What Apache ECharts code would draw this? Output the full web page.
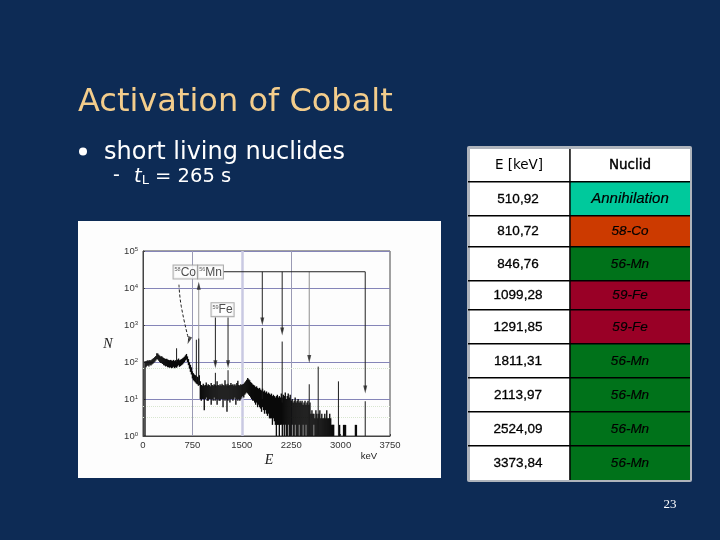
<!DOCTYPE html>
<html><head><meta charset="utf-8">
<style>html,body{margin:0;padding:0;background:#0d2b55}#c{width:720px;height:540px}</style>
<script src="https://cdn.jsdelivr.net/npm/echarts@6/dist/echarts.min.js"></script>
</head><body><div id="c"></div>
<script>
const titleText = 'Activation of Cobalt';
const bulletText = 'short living nuclides';
const pageNumber = '23';
const tableHeader = ['E [keV]', 'Nuclid'];
const tableEnergies = ['510,92','810,72','846,76','1099,28','1291,85','1811,31','2113,97','2524,09','3373,84'];
const tableNuclides = ['Annihilation','58-Co','56-Mn','59-Fe','59-Fe','56-Mn','56-Mn','56-Mn','56-Mn'];
const nuclideColors = {'Annihilation':'#00c99c','58-Co':'#cc3a00','56-Mn':'#00721a','59-Fe':'#990026'};
const rowEdges = [149,182,216,247,281,310,344,378,412,446,480];

const xTicks = [0,750,1500,2250,3000,3750];
const channelWidth = 15;
// upper and lower edge of the spectrum band, one value per 15 keV channel (10 per line = 150 keV)
const spectrumHigh = [
 null,null,105,104,108,112,108,114,110,116,
 122,128,136,146,172,170,156,148,140,142,
 134,128,124,120,122,116,114,112,114,110,
 108,114,106,112,110,116,124,112,116,120,
 126,132,140,152,165,142,120,98,84,72,
 56,50,46,44,42,40,38,44,30,24,
 23,26,23,24,28,23,25,24,22,27,
 24,23,25,24,23,30,24,23,25,23,
 26,24,23,32,25,23,26,23,24,27,
 24,25,23,25,23,27,31,24,23,25,
 24,25,26,28,30,33,37,34,32,29,
 27,25,24,23,21,22,20,19,20,18,
 17,19,16,17,15,16,14,15,14,13,
 14,12,13,12,11,12,13,11,12,11,
 14,11,13,12,15,10,12,14,11,13,
 9,10,8,9,11,8,9,10,8,9,
 8,9,7,8,9,7,8,9,7,8,
 4,5,4,4,3,5,4,3,4,5,
 3,4,3,3,4,3,5,3,3,4,
 3,2,2,2,null,null,null,null,null,2,
 null,null,null,2,2,2,null,null,null,null,
 null,null,null,null,null,2,2];
const spectrumLow = [
 null,null,1,72,78,82,76,84,80,86,
 90,96,102,110,118,116,108,100,94,92,
 88,82,80,76,78,72,72,70,72,68,
 70,74,68,72,70,76,82,74,78,82,
 86,92,100,110,116,100,82,66,54,46,
 36,32,30,28,26,25,23,24,10,9,
 10,10,5,10,11,9,9,10,10,7,
 10,9,11,9,10,7,10,9,9,10,
 10,6,10,9,10,4.5,9,10,8,10,
 10,9,10,11,7,10,9,10,9,10,
 11,12,11,13,14,15,14,13,12,11,
 10,9,9,8,7,8,6,7,6,5.5,
 4.5,6,5,4,5,4,3.5,4,3,3,
 3,2,3,2.5,2,1,2,2,1,2,
 2,1,2,1,2,1,1,2,1,1,
 1,2,1,1,2,1,1,1,2,1,
 1,1,2,1,1,2,1,1,1,1,
 1,1,1,2,1,1,1,1,1,1,
 1,1,1,1,1,1,1,1,1,1,
 1,1,1,1,null,null,null,null,null,1,
 null,null,null,1,1,1,null,null,null,null,
 null,null,null,null,null,1,1];
const peakEnergies = [510,810,846,1099,1291,1811,2113,2524,2660,2967,3374];
const peakCounts   = [235,400,430,51,60,830,357,25,75,30,8.7];
const peakBases    = [100,30,23,20,20,10,8,1,1,1,1];

const mnBracketEnergies = [1223,3374];
const mnBracketCount = 27500;
const mnArrowEnergies = [1811,2113,3374];
const mnArrowEnds = [1250,670,18];
const mnGreyArrow = [2524,120];
const feArrowEnergies = [1099,1291];
const feArrowTop = 1600;
const feArrowEnd = 87;
const mn846Arrow = [[846,11500],[846,32]];
const coCurve = [[546,12300],[581,3200],[697,380]];
const verticalGrid = [750,2250];
const minorGridCounts = [3.3,6.5,67];

const boxLabels = [
  {value:[642,27000], mass:'58', el:'Co'},
  {value:[1026,27000], mass:'56', el:'Mn'},
  {value:[1208,2600], mass:'59', el:'Fe'}
];

const channels = [];
spectrumHigh.forEach((h,i)=>{ if(h!==null && spectrumLow[i]!==null) channels.push([i*channelWidth, spectrumLow[i], h]); });
const peaks = peakEnergies.map((e,i)=>[e,peakBases[i],peakCounts[i]]);
const arrows = mnArrowEnergies.map((e,i)=>[e,mnBracketCount,mnArrowEnds[i]])
  .concat(feArrowEnergies.map(e=>[e,feArrowTop,feArrowEnd]));

function vlineSeries(name,data,color,width,z){
  return {name,type:'custom',data,z,clip:true,silent:true,animation:false,
    encode:{x:0,y:[1,2]},
    renderItem(p,api){
      const a=api.coord([api.value(0),api.value(1)]), b=api.coord([api.value(0),api.value(2)]);
      return {type:'line',shape:{x1:a[0],y1:a[1],x2:b[0],y2:b[1]},style:{stroke:color,lineWidth:width}};
    }};
}
function headSeries(data,color,rot){
  return {type:'scatter',data,symbol:'triangle',symbolSize:[4,8],symbolRotate:rot,z:7,silent:true,animation:false,
    itemStyle:{color}};
}

const g = [];
g.push({type:'rect',z:-5,shape:{x:78,y:221,width:363,height:257},style:{fill:'#fdfdfd'}});
g.push({type:'text',x:78,y:87,style:{text:titleText,font:'32px "DejaVu Sans"',fill:'#f3cd8c'}});
g.push({type:'circle',shape:{cx:83,cy:151.5,r:4},style:{fill:'#ffffff'}});
g.push({type:'text',x:104,y:141,style:{text:bulletText,font:'24px "DejaVu Sans"',fill:'#ffffff'}});
g.push({type:'text',x:113,y:167,style:{text:'-',font:'19px "DejaVu Sans"',fill:'#ffffff'}});
g.push({type:'text',x:134,y:166,style:{text:'{i|t}{s|L}{n| = 265 s}',fill:'#ffffff',
  rich:{i:{font:'italic 19.5px "DejaVu Sans"',fill:'#fff'},s:{font:'13px "DejaVu Sans"',fill:'#fff',verticalAlign:'bottom',padding:[8,0,0,0]},n:{font:'19.5px "DejaVu Sans"',fill:'#fff'}}}});
g.push({type:'text',x:670,y:505,style:{text:pageNumber,font:'13px "Liberation Serif"',fill:'#ffffff',align:'center',verticalAlign:'middle'}});
// axis captions
g.push({type:'text',x:108,y:344,style:{text:'N',font:'italic 14px "Liberation Serif"',fill:'#222',align:'center',verticalAlign:'middle'}});
g.push({type:'text',x:269,y:460,style:{text:'E',font:'italic 14px "Liberation Serif"',fill:'#222',align:'center',verticalAlign:'middle'}});
g.push({type:'text',x:369,y:456,style:{text:'keV',font:'9.5px "Liberation Sans"',fill:'#222',align:'center',verticalAlign:'middle'}});
// table
g.push({type:'rect',shape:{x:467,y:146,width:225,height:336,r:2},style:{fill:'#aeb4bc'}});
g.push({type:'rect',shape:{x:470,y:149,width:220,height:331},style:{fill:'#ffffff'}});
tableNuclides.forEach((n,i)=>{
  const y0=rowEdges[i+1], y1=rowEdges[i+2];
  g.push({type:'rect',shape:{x:570,y:y0,width:120,height:y1-y0},style:{fill:nuclideColors[n]}});
  const cy=(y0+y1)/2;
  g.push({type:'text',x:518,y:cy,style:{text:tableEnergies[i],font:'13.5px "Liberation Sans"',fill:'#000',stroke:'#000',lineWidth:0.3,align:'center',verticalAlign:'middle'}});
  g.push({type:'text',x:630,y:cy,style:{text:n,font:'italic '+(n.length>6?'15':'13.5')+'px "Liberation Sans"',fill:'#000',stroke:'#000',lineWidth:0.2,align:'center',verticalAlign:'middle'}});
});
g.push({type:'text',x:519,y:165,style:{text:tableHeader[0],font:'13.5px "DejaVu Sans"',fill:'#000',align:'center',verticalAlign:'middle'}});
g.push({type:'text',x:630,y:165,style:{text:tableHeader[1],font:'13.5px "DejaVu Sans"',fill:'#000',stroke:'#000',lineWidth:0.4,align:'center',verticalAlign:'middle'}});
rowEdges.slice(1,-1).forEach(y=>g.push({type:'rect',shape:{x:468,y:y-1,width:222,height:1.6},style:{fill:'#000'}}));
g.push({type:'rect',shape:{x:569.2,y:149,width:1.5,height:331},style:{fill:'#000'}});

const chart = echarts.init(document.getElementById('c'),null,{renderer:'canvas'});
chart.setOption({
  backgroundColor:'#0d2b55',
  animation:false,
  graphic:{elements:g},
  grid:{left:143,top:251,width:247,height:185,show:true,borderColor:'#444',borderWidth:1,backgroundColor:'transparent'},
  xAxis:{type:'value',min:xTicks[0],max:xTicks[xTicks.length-1],interval:750,
    axisLine:{lineStyle:{color:'#444'}},axisTick:{inside:true,length:2,lineStyle:{color:'#444'}},splitLine:{show:false},
    axisLabel:{color:'#333',fontSize:9.5,fontFamily:'Liberation Sans',margin:4,hideOverlap:false,showMinLabel:true,showMaxLabel:true,formatter:v=>String(v)}},
  yAxis:{type:'log',logBase:10,min:1,max:100000,
    axisLine:{lineStyle:{color:'#444'}},axisTick:{inside:true,length:2,lineStyle:{color:'#444'}},minorTick:{show:false},
    splitLine:{show:true,lineStyle:{color:'#8585b8',width:1}},
    axisLabel:{color:'#333',margin:5,fontSize:9.5,fontFamily:'Liberation Sans',
      formatter:v=>'{b|10}{s|'+Math.round(Math.log10(v))+'}',
      rich:{b:{fontSize:9.5,color:'#333',fontFamily:'Liberation Sans'},s:{fontSize:6,color:'#333',fontFamily:'Liberation Sans',verticalAlign:'top',padding:[0,0,4,0]}}}},
  series:[
    {type:'line',data:[],z:1,silent:true,animation:false,markLine:{silent:true,symbol:'none',label:{show:false},animation:false,
      data:[...verticalGrid.map(x=>({xAxis:x,lineStyle:{color:'#9a9ab4',width:1,type:'solid'}})),
            {xAxis:1500,lineStyle:{color:'#c9c9e2',width:2.5,type:'solid'}},
            ...minorGridCounts.map(y=>({yAxis:y,lineStyle:{color:'#d8e6d0',width:1,type:'dotted'}}))]}},
    vlineSeries('greyMn',[[mnGreyArrow[0],mnBracketCount,mnGreyArrow[1]]],'#8f8f8f',1,3),
    vlineSeries('arrow846',[[mn846Arrow[0][0],mn846Arrow[0][1],mn846Arrow[1][1]]],'#9a9a9a',1,3),
    vlineSeries('spectrum',channels,'#0a0a0a',1.35,5),
    vlineSeries('peaks',peaks,'#1a1a1a',1,5),
    vlineSeries('arrows',arrows,'#222',1,6),
    {type:'line',data:mnBracketEnergies.map(e=>[e,mnBracketCount]),symbol:'none',lineStyle:{color:'#222',width:1},z:6,silent:true,animation:false},
    {type:'line',data:coCurve,symbol:'none',smooth:true,lineStyle:{color:'#222',width:1,type:[3,2]},z:6,silent:true,animation:false},
    headSeries(mnArrowEnergies.map((e,i)=>[e,mnArrowEnds[i]]).concat(feArrowEnergies.map(e=>[e,feArrowEnd]),[mnGreyArrow]),'#222',180),
    headSeries([mn846Arrow[0]],'#222',0),
    headSeries([coCurve[2]],'#222',160),
    {type:'scatter',data:boxLabels,symbolSize:0,z:8,silent:true,animation:false,
      label:{show:true,position:'inside',
        formatter:p=>'{m|'+p.data.mass+'}{e|'+p.data.el+'}',
        backgroundColor:'#fdfdfd',borderColor:'#999',borderWidth:1,padding:[1,1,0,1],
        rich:{m:{fontSize:5.5,color:'#333',fontFamily:'Liberation Sans',verticalAlign:'top',padding:[0,0,4,0]},
              e:{fontSize:12,color:'#222',fontFamily:'Liberation Sans'}}}}
  ]
});
</script></body></html>
